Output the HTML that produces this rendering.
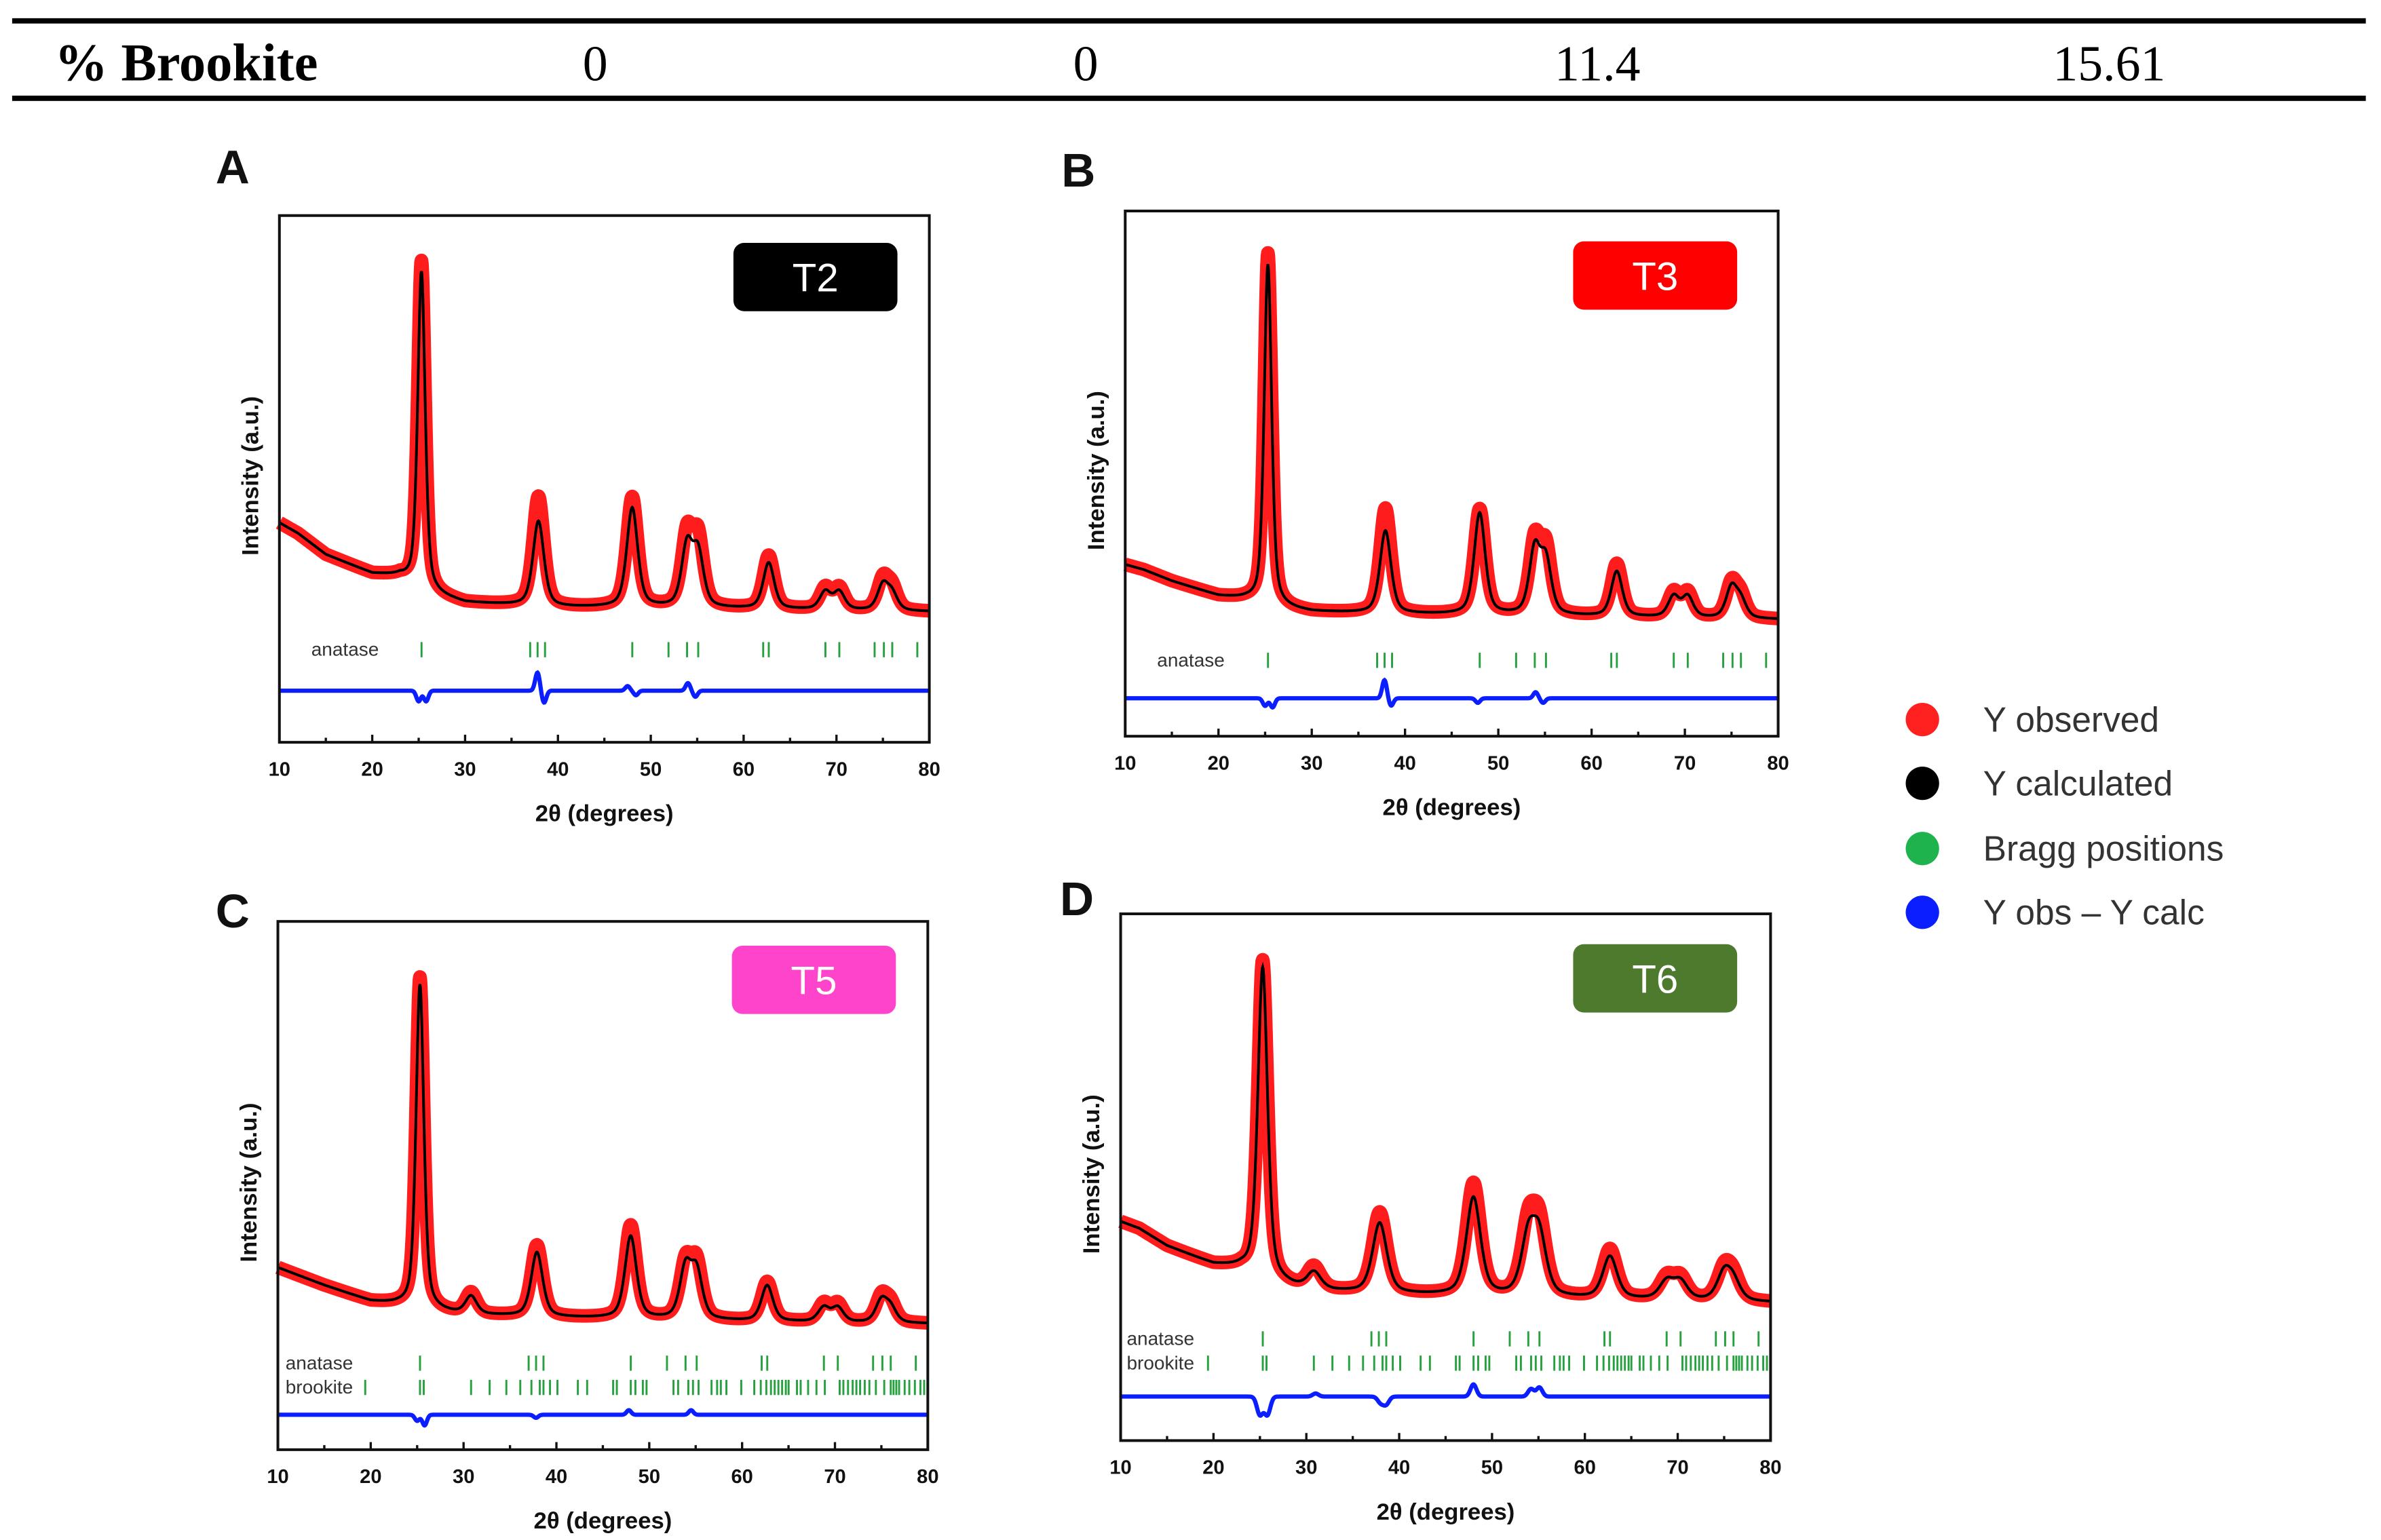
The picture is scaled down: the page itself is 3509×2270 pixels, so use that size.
<!DOCTYPE html>
<html><head><meta charset="utf-8"><style>
html,body{margin:0;padding:0;background:#fff;}
svg{display:block;}
.tk{font-family:"Liberation Sans",sans-serif;font-weight:bold;font-size:13px;fill:#111;}
.tt{font-family:"Liberation Sans",sans-serif;font-weight:bold;font-size:15.5px;fill:#111;}
.ph{font-family:"Liberation Sans",sans-serif;font-size:12.5px;fill:#333;}
</style></head><body>
<svg id="fig" width="3509" height="2270" viewBox="0 0 1568 1014.5" preserveAspectRatio="none" xmlns="http://www.w3.org/2000/svg">
<g>
<rect x="8" y="12" width="1550" height="3.5" fill="#000"/>
<rect x="8" y="63" width="1550" height="3.5" fill="#000"/>
<text x="36" y="53" font-family="Liberation Serif,serif" font-weight="bold" font-size="35">% Brookite</text>
<text x="392" y="53" text-anchor="middle" font-family="Liberation Serif,serif" font-size="33">0</text>
<text x="715" y="53" text-anchor="middle" font-family="Liberation Serif,serif" font-size="33">0</text>
<text x="1052" y="53" text-anchor="middle" font-family="Liberation Serif,serif" font-size="33">11.4</text>
<text x="1389" y="53" text-anchor="middle" font-family="Liberation Serif,serif" font-size="33">15.61</text>
</g>
<g>
<g><circle cx="1266" cy="474" r="11" fill="#ff2020"/><text x="1306" y="482" font-family="Liberation Sans,sans-serif" font-size="23" fill="#333">Y observed</text></g>
<g><circle cx="1266" cy="516" r="11" fill="#000"/><text x="1306" y="524" font-family="Liberation Sans,sans-serif" font-size="23" fill="#333">Y calculated</text></g>
<g><circle cx="1266" cy="559" r="11" fill="#1fb34e"/><text x="1306" y="567" font-family="Liberation Sans,sans-serif" font-size="23" fill="#333">Bragg positions</text></g>
<g><circle cx="1266" cy="601" r="11" fill="#0a1eff"/><text x="1306" y="609" font-family="Liberation Sans,sans-serif" font-size="23" fill="#333">Y obs – Y calc</text></g>
</g>
</svg>
<script>
// ---- data ----
const bgX = [10,12,15,20,23,26,30,40,50,60,70,80];
const A_bg = [26,23,17,11.6,10.7,6,3.4,2.1,2.1,1.7,1.3,0.9];
const B_bg = [15.4,14,11,7,6,4,2.8,2.2,2,1.6,1.2,0.8];
const C_bg = [17,15,12,7.5,6.5,5,3.8,3,2.6,2,1.6,1.3];
const D_bg = [24,22,17,11.7,10.5,7,4.3,3.2,2.6,2,1.5,0.9];
const peakPosAB = [25.3,37.9,48.0,53.9,55.1,62.7,68.8,70.3,75.0,76.0];
const peakPosCD = [25.3,30.8,37.9,48.0,53.9,55.1,62.7,68.8,70.3,75.0,76.0];
const A_calc = [90,24,28,17,15,13,5,5,7,4.5];
const A_obs  = [93,31,31,20,19,15,6,6,8.5,6];
const B_calc = [91,22,27,17,14,12,5.5,5.5,8,4.5];
const B_obs  = [94,28,28,19,17,14,6.5,6.5,9,5.5];
const C_calc = [91,5,18,23,14,13,10,4,4,6,4];
const C_obs  = [93,6,20,26,15,15,11,5,5,7,5];
const D_calc = [89,5,20,28,16,16,12,5,5,7.5,5];
const D_obs  = [91,6.5,23,32,19,19,14,6,6,8.5,6];
const A_diffPos = [25.0,25.8,37.8,38.5,47.5,48.4,54.0,54.8];
const A_diffAmp = [-7,-7,12,-8,3,-3,5,-4];
const B_diffPos = [25.0,25.8,37.8,38.5,47.8,54.0,54.8];
const B_diffAmp = [-5,-6,12,-5,-3,4,-3];
const C_diffPos = [25.0,25.8,37.8,47.8,54.5];
const C_diffAmp = [-4,-7,-2,3,3];
const D_diffPos = [25.0,25.8,31,38.0,38.6,48.0,54.2,55.1];
const D_diffAmp = [-12,-12,2,-4,-5,8,5,6];
const anatasePos = [25.3,37.0,37.8,38.6,48.0,51.9,53.9,55.1,62.1,62.7,68.8,70.3,74.1,75.1,76.0,78.7];
const brookitePos = [19.4,25.3,25.7,30.8,32.8,34.6,36.1,37.3,38.2,38.6,39.3,40.1,42.3,43.3,46.1,46.5,48.0,48.5,49.3,49.7,52.6,53.1,54.2,54.7,55.3,56.7,57.3,57.7,58.3,59.9,61.3,62.0,62.6,63.1,63.5,63.9,64.3,64.7,65.0,65.9,66.3,67.1,68.0,68.9,70.5,70.9,71.4,71.9,72.3,72.7,73.2,73.7,74.4,75.3,76.0,76.3,76.6,76.9,77.5,78.0,78.6,79.2,79.6];
const xTicks = [10,20,30,40,50,60,70,80];

const NS = "http://www.w3.org/2000/svg";
const svg = document.getElementById('fig');
function mk(tag, attrs, parent){const e=document.createElementNS(NS,tag);for(const k in attrs)e.setAttribute(k,attrs[k]);(parent||svg).appendChild(e);return e;}
function interp(xs,vs,x){if(x<=xs[0])return vs[0];for(let i=1;i<xs.length;i++){if(x<=xs[i]){const t=(x-xs[i-1])/(xs[i]-xs[i-1]);return vs[i-1]+t*(vs[i]-vs[i-1]);}}return vs[vs.length-1];}

const panels = [
 {id:'a',letter:'A',lx:142,ly:121,x0:184,x1:612,y0:142,y1:489,floor:405,top:172,badge:'T2',bc:'#000',bx:483,by:160,bgv:A_bg,pp:peakPosAB,calc:A_calc,obs:A_obs,wf:1,dp:A_diffPos,da:A_diffAmp,dw:0.35,blue:455,an:428,br:null,anLx:205},
 {id:'b',letter:'B',lx:699,ly:123,x0:741,x1:1171,y0:139,y1:485,floor:410,top:163,badge:'T3',bc:'#ff0000',bx:1036,by:159,bgv:B_bg,pp:peakPosAB,calc:B_calc,obs:B_obs,wf:1,dp:B_diffPos,da:B_diffAmp,dw:0.35,blue:460,an:435,br:null,anLx:762},
 {id:'c',letter:'C',lx:142,ly:611,x0:183,x1:611,y0:607,y1:955,floor:875,top:640,badge:'T5',bc:'#ff44cc',bx:482,by:623,bgv:C_bg,pp:peakPosCD,calc:C_calc,obs:C_obs,wf:1.05,dp:C_diffPos,da:C_diffAmp,dw:0.35,blue:932,an:898,br:914,anLx:188},
 {id:'d',letter:'D',lx:698,ly:603,x0:738,x1:1166,y0:602,y1:949,floor:860,top:630,badge:'T6',bc:'#4e7a2e',bx:1036,by:622,bgv:D_bg,pp:peakPosCD,calc:D_calc,obs:D_obs,wf:1.3,dp:D_diffPos,da:D_diffAmp,dw:0.45,blue:920,an:882,br:898,anLx:742}
];
function widthFor(p,wf){return (p<26?0.95:1.4)*wf;}

panels.forEach(P=>{
 const g = mk('g',{});
 
 
 const X = x=>P.x0+(x-10)/70*(P.x1-P.x0);
 const Y = v=>P.floor-v*(P.floor-P.top)/100;
 const model = (x,hs)=>{let v=interp(bgX,P.bgv,x);for(let i=0;i<P.pp.length;i++){const hw=widthFor(P.pp[i],P.wf)/2;const d=(x-P.pp[i])/hw;v+=hs[i]*(0.5/(1+d*d)+0.5*Math.exp(-0.693*d*d));}return v;};
 const lab = mk('text',{x:P.lx,y:P.ly,'font-family':'Liberation Sans,sans-serif','font-weight':'bold','font-size':'31',fill:'#111'},g);
 lab.textContent=P.letter;
 
 
 let po='',pc='',pd='';
 for(let x=10;x<=80.001;x+=0.05){
  po+=(po?'L':'M')+X(x).toFixed(2)+','+Y(model(x,P.obs)).toFixed(2);
  pc+=(pc?'L':'M')+X(x).toFixed(2)+','+Y(model(x,P.calc)).toFixed(2);
  let dv=0;for(let i=0;i<P.dp.length;i++){const d=(x-P.dp[i])/P.dw;dv+=P.da[i]*Math.exp(-d*d);}
  pd+=(pd?'L':'M')+X(x).toFixed(2)+','+(P.blue-dv).toFixed(2);
 }
 const o=mk('path',{d:po,fill:'none',stroke:'#ff1c1c','stroke-width':'9','stroke-linejoin':'round'},g);
 
 
 const c=mk('path',{d:pc,fill:'none',stroke:'#000','stroke-width':'1.8'},g);
 
 
 const df=mk('path',{d:pd,fill:'none',stroke:'#0a1eff','stroke-width':'2.8'},g);
 
 
 anatasePos.forEach(p=>{const t=mk('rect',{x:X(p)-0.6,y:P.an-5,width:1.3,height:10,fill:'#27a040'},g);
  
  });
 const al=mk('text',{x:P.anLx,y:P.an+4,class:'ph'},g); al.textContent='anatase';
 
 
 if(P.br){
  brookitePos.forEach(p=>{const t=mk('rect',{x:X(p)-0.6,y:P.br-5,width:1.3,height:10,fill:'#27a040'},g);
   
   });
  const bl=mk('text',{x:P.anLx,y:P.br+4,class:'ph'},g); bl.textContent='brookite';
  
  
 }
 const fr=mk('rect',{x:P.x0,y:P.y0,width:P.x1-P.x0,height:P.y1-P.y0,fill:'none',stroke:'#111','stroke-width':'1.8'},g);
 
 
 for(let v=10;v<=80;v+=5){const major=v%10===0;mk('line',{x1:X(v),x2:X(v),y1:P.y1,y2:P.y1-(major?5:3),stroke:'#111','stroke-width':'1.5'},g);}
 xTicks.forEach(v=>{const t=mk('text',{x:X(v),y:P.y1+22,'text-anchor':'middle',class:'tk'},g);t.textContent=v;
  
  });
 const xt=mk('text',{x:(P.x0+P.x1)/2,y:P.y1+52,'text-anchor':'middle',class:'tt'},g); xt.textContent='2θ (degrees)';
 
 
 const yc=(P.y0+P.y1)/2-2;
 const yt=mk('text',{x:P.x0-14,y:yc,'text-anchor':'middle',class:'tt',transform:`rotate(-90 ${P.x0-14} ${yc})`},g); yt.textContent='Intensity (a.u.)';
 yt.setAttribute('font-size','14.5');
 
 
 const bg=mk('g',{},g);
 
 
 mk('rect',{x:P.bx,y:P.by,width:108,height:45,rx:7,fill:P.bc},bg);
 const bt=mk('text',{x:P.bx+54,y:P.by+32,'text-anchor':'middle','font-family':'Liberation Sans,sans-serif','font-size':'26',fill:'#fff'},bg); bt.textContent=P.badge;
});
</script>
</body></html>
